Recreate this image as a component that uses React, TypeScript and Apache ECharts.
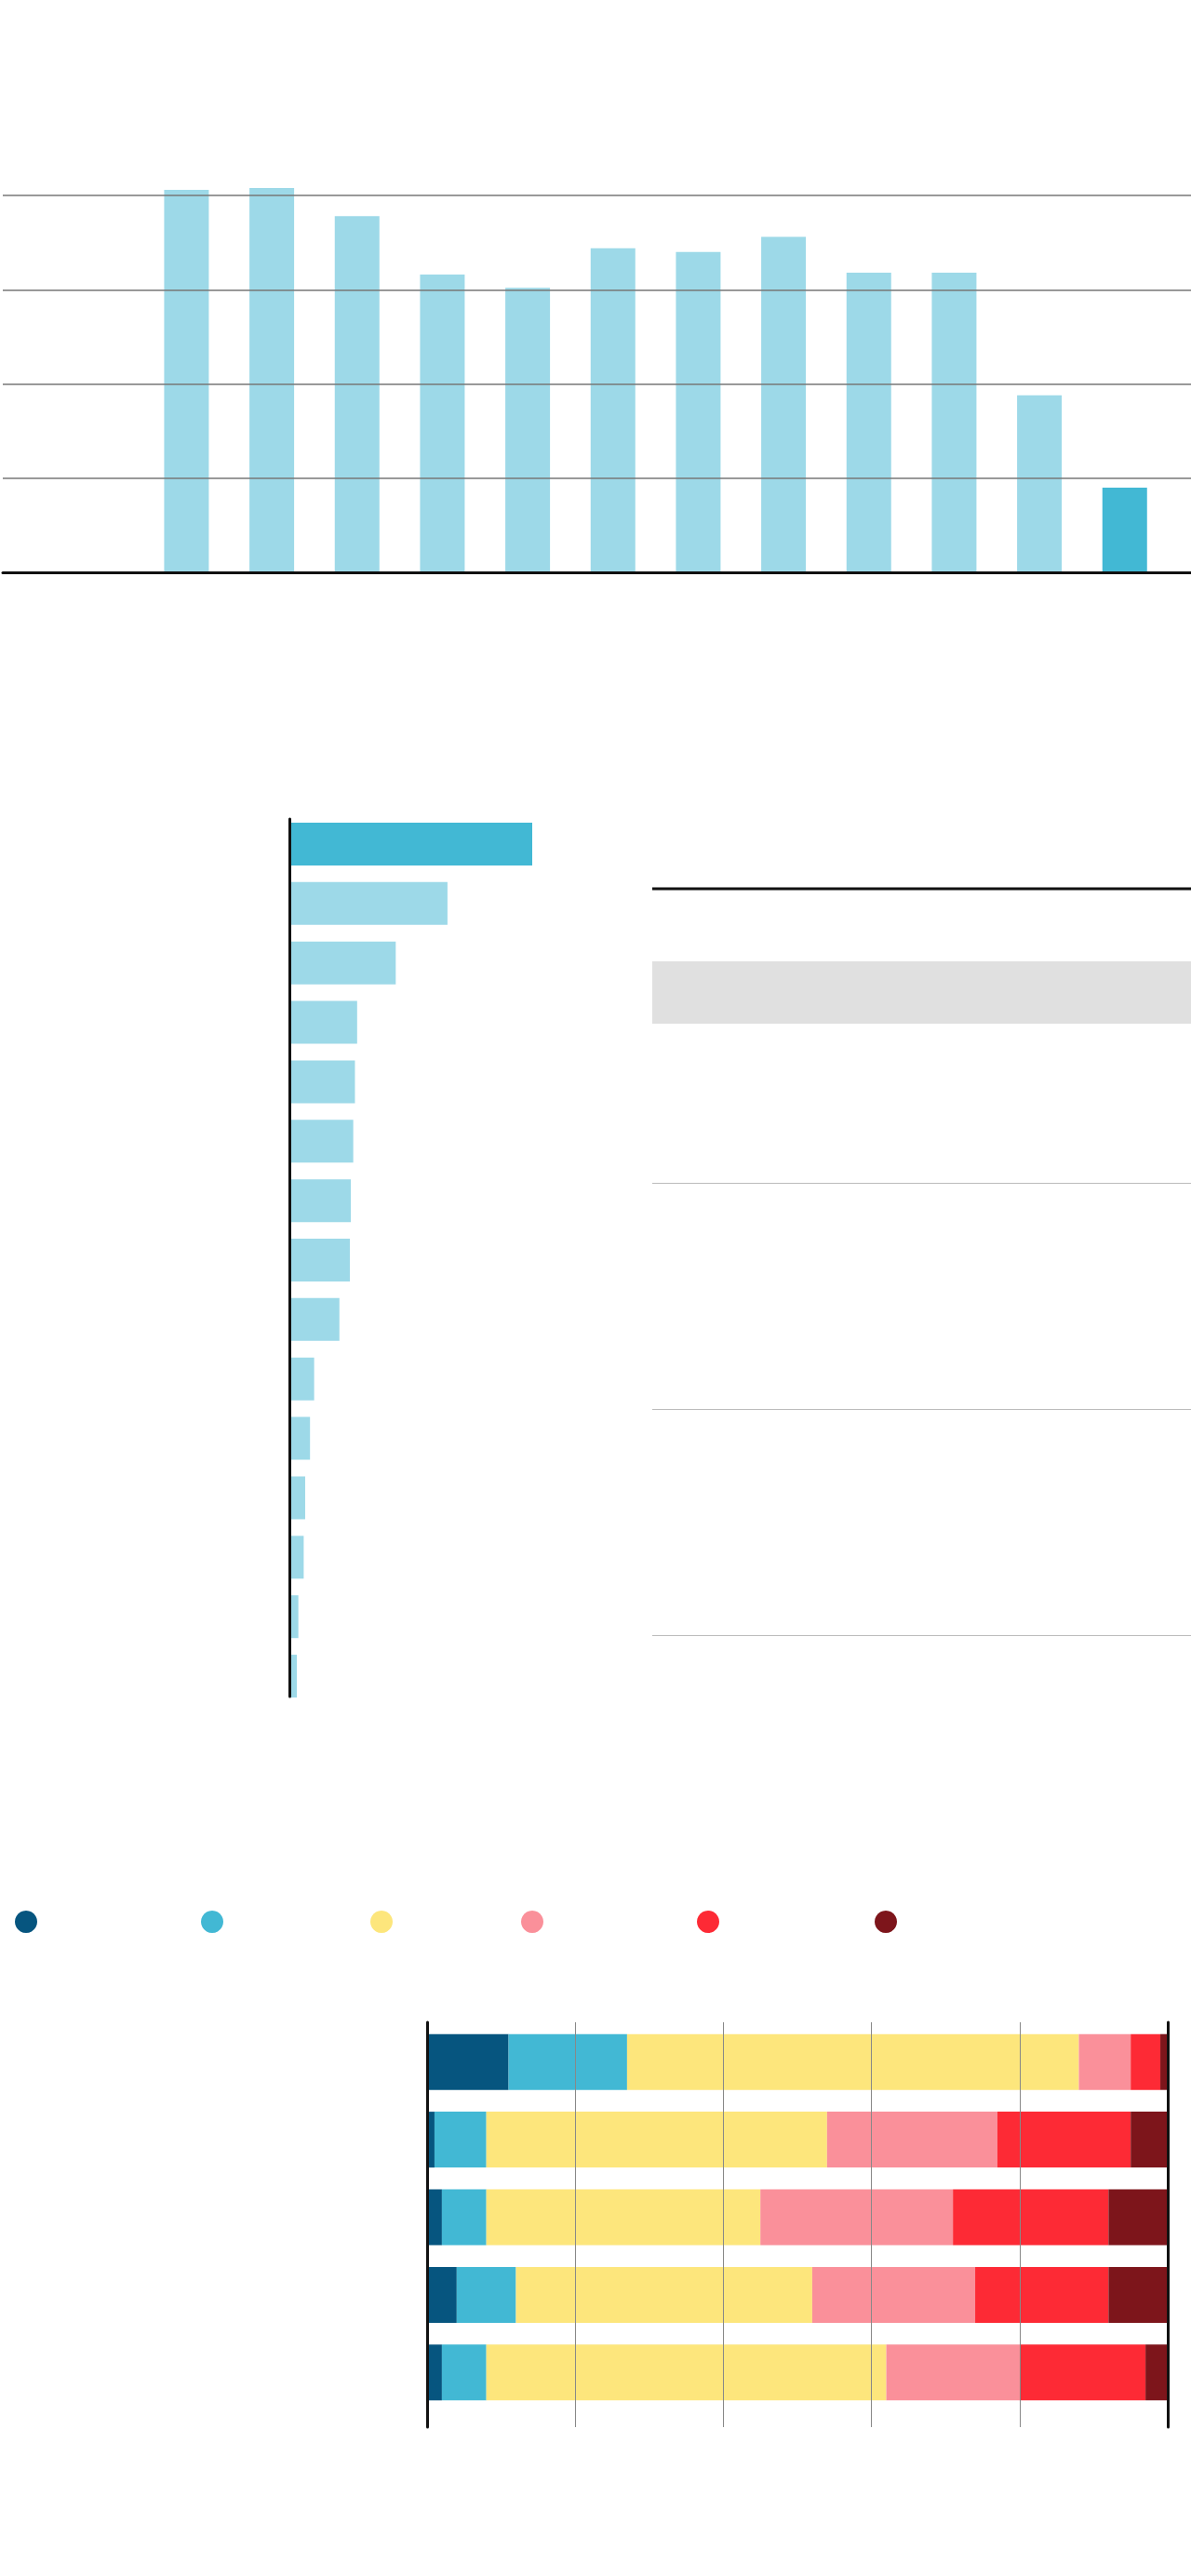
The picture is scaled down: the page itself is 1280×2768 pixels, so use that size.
import React, { useEffect, useRef } from "react";
import * as echarts from "echarts";

// ---------- DATA ----------
// Chart 1: vertical bars (12 periods), last one highlighted
const colCategories = ["1", "2", "3", "4", "5", "6", "7", "8", "9", "10", "11", "12"];
const colValues = [20.3, 20.4, 18.9, 15.8, 15.1, 17.2, 17.0, 17.8, 15.9, 15.9, 9.4, 4.5];
const colTicks = [0, 5, 10, 15, 20];

// Chart 2: horizontal ranked bars, first one highlighted
const rankCategories = ["1", "2", "3", "4", "5", "6", "7", "8", "9", "10", "11", "12", "13", "14", "15"];
const rankValues = [100, 65.1, 43.8, 27.9, 27.0, 26.3, 25.3, 24.9, 20.6, 10.2, 8.5, 6.5, 5.9, 3.7, 3.1];

// Chart 3: 100% stacked bars, 5 rows x 6 groups
const stackRows = ["1", "2", "3", "4", "5"];
const stackGroups = ["g1", "g2", "g3", "g4", "g5", "g6"];
const stackG1 = [11, 1, 2, 4, 2];
const stackG2 = [16, 7, 6, 8, 6];
const stackG3 = [61, 46, 37, 40, 54];
const stackG4 = [7, 23, 26, 22, 18];
const stackG5 = [4, 18, 21, 18, 17];
const stackG6 = [1, 5, 8, 8, 3];
const stackTicks = [0, 20, 40, 60, 80, 100];

// ---------- STYLE ----------
const LIGHT = "#9dd9e8";
const HILITE = "#42b8d4";
const groupColors = ["#06557f", "#42b8d4", "#fde67c", "#fa909a", "#fd2a35", "#7d151b"];
const legendX = [28, 228, 410, 572, 761, 952];

export default function App() {
  const ref = useRef<HTMLDivElement>(null);

  useEffect(() => {
    if (!ref.current) return;
    const chart = echarts.init(ref.current, undefined, { renderer: "svg" });
    const stackData = [stackG1, stackG2, stackG3, stackG4, stackG5, stackG6];

    const hidden = { show: false };
    const option: any = {
      animation: false,
      backgroundColor: "#ffffff",
      grid: [
        { left: 3, top: 210, width: 1277, height: 405 },          // 0 frame chart1
        { left: 154.6, top: 210, width: 1100, height: 405 },      // 1 bars chart1
        { left: 311, top: 880, width: 300, height: 943 },         // 2 frame chart2
        { left: 311, top: 875, width: 261, height: 958 },         // 3 bars chart2
        { left: 459, top: 2173, width: 796, height: 435 },        // 4 frame chart3
        { left: 459, top: 2174, width: 796, height: 417 },        // 5 bars chart3
      ],
      xAxis: [
        {
          gridIndex: 0, type: "value", min: 0, max: 1, z: 10,
          axisLine: { show: true, lineStyle: { color: "#111", width: 3 } },
          axisTick: hidden, axisLabel: hidden, splitLine: hidden,
        },
        { gridIndex: 1, type: "category", data: colCategories, show: false },
        { gridIndex: 2, type: "value", show: false },
        { gridIndex: 3, type: "value", min: 0, max: 100, show: false },
        {
          gridIndex: 4, type: "value", min: stackTicks[0], max: stackTicks[stackTicks.length - 1],
          interval: stackTicks[1] - stackTicks[0], z: 10,
          axisLine: hidden, axisTick: hidden, axisLabel: hidden,
          splitLine: { show: true, lineStyle: { color: "#888", width: 1 } },
        },
        { gridIndex: 5, type: "value", min: 0, max: 100, show: false },
      ],
      yAxis: [
        {
          gridIndex: 0, type: "value", min: colTicks[0], max: colTicks[colTicks.length - 1],
          interval: colTicks[1] - colTicks[0], z: 10,
          axisLine: hidden, axisTick: hidden, axisLabel: hidden,
          splitLine: { show: true, lineStyle: { color: "#777", width: 1.5 } },
        },
        { gridIndex: 1, type: "value", min: colTicks[0], max: colTicks[colTicks.length - 1], show: false },
        {
          gridIndex: 2, type: "category", data: [""], z: 10,
          axisLine: { show: true, lineStyle: { color: "#111", width: 3 } },
          axisTick: hidden, axisLabel: hidden, splitLine: hidden,
        },
        { gridIndex: 3, type: "category", data: rankCategories, inverse: true, show: false },
        {
          gridIndex: 4, type: "category", data: [""], position: "left", z: 11,
          axisLine: { show: true, lineStyle: { color: "#111", width: 3 } },
          axisTick: hidden, axisLabel: hidden, splitLine: hidden,
        },
        {
          gridIndex: 4, type: "category", data: [""], position: "right", z: 11,
          axisLine: { show: true, lineStyle: { color: "#111", width: 3 } },
          axisTick: hidden, axisLabel: hidden, splitLine: hidden,
        },
        { gridIndex: 5, type: "category", data: stackRows, inverse: true, show: false },
      ],
      series: [
        {
          type: "bar", xAxisIndex: 1, yAxisIndex: 1, barWidth: 48, clip: false,
          data: colValues.map((v, i) => ({
            value: v,
            itemStyle: { color: i === colValues.length - 1 ? HILITE : LIGHT },
          })),
        },
        {
          type: "bar", xAxisIndex: 3, yAxisIndex: 3, barWidth: 46, clip: false,
          data: rankValues.map((v, i) => ({
            value: v,
            itemStyle: { color: i === 0 ? HILITE : LIGHT },
          })),
        },
        ...stackGroups.map((g, gi) => ({
          type: "bar", name: g, xAxisIndex: 5, yAxisIndex: 6, stack: "total", barWidth: 60,
          itemStyle: { color: groupColors[gi] },
          data: stackData[gi],
        })),
      ],
      graphic: [
        // table on the right of chart 2
        { type: "rect", shape: { x: 701, y: 1033, width: 579, height: 67 }, style: { fill: "#e0e0e0" } },
        { type: "line", shape: { x1: 701, y1: 955, x2: 1280, y2: 955 }, style: { stroke: "#111", lineWidth: 3 } },
        { type: "line", shape: { x1: 701, y1: 1271.5, x2: 1280, y2: 1271.5 }, style: { stroke: "#bbbbbb", lineWidth: 1 } },
        { type: "line", shape: { x1: 701, y1: 1514.5, x2: 1280, y2: 1514.5 }, style: { stroke: "#bbbbbb", lineWidth: 1 } },
        { type: "line", shape: { x1: 701, y1: 1757.5, x2: 1280, y2: 1757.5 }, style: { stroke: "#bbbbbb", lineWidth: 1 } },
        // legend dots for chart 3
        ...groupColors.map((c, i) => ({
          type: "circle", shape: { cx: legendX[i], cy: 2065, r: 12 }, style: { fill: c },
        })),
      ],
    };
    chart.setOption(option);
    return () => chart.dispose();
  }, []);

  return (
    <div
      ref={ref}
      style={{ position: "absolute", left: 0, top: 0, width: 1280, height: 2768 }}
    />
  );
}
